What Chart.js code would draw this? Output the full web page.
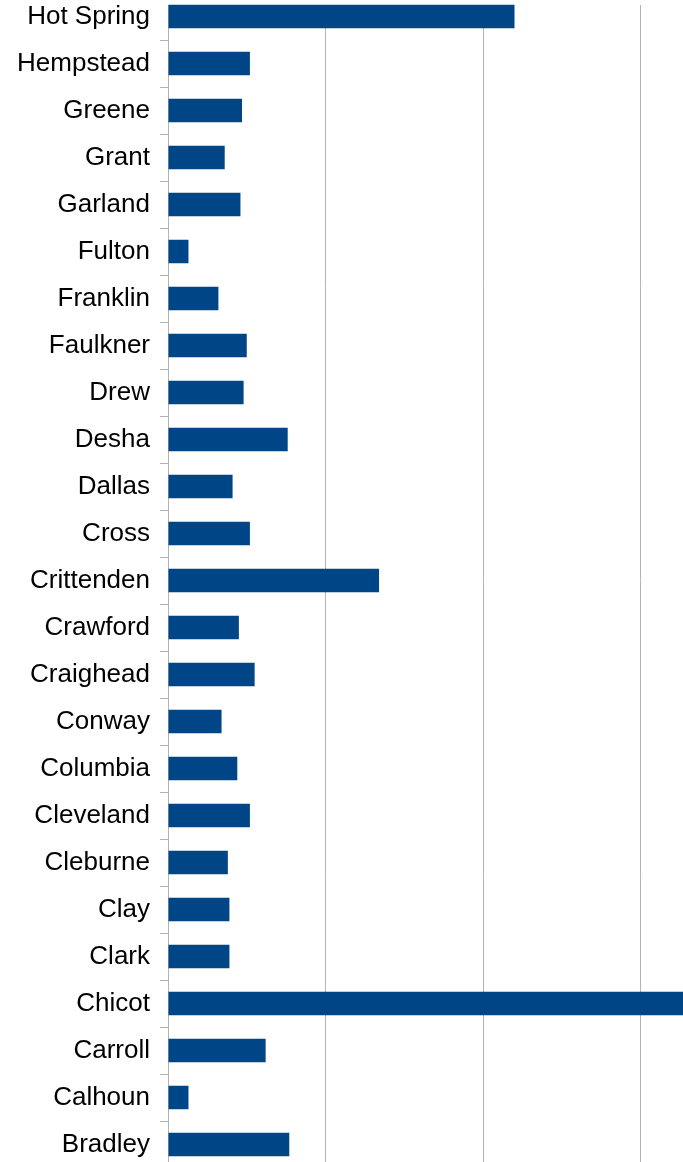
<!DOCTYPE html>
<html>
<head>
<meta charset="utf-8">
<script src="https://cdn.jsdelivr.net/npm/chart.js@4.4.0/dist/chart.umd.min.js"></script>
<style>
  html, body { margin: 0; padding: 0; background: #fff; overflow: hidden; width: 683px; height: 1162px; }
  #wrap { position: absolute; left: 0; top: -7px; width: 798px; height: 1175px; }
</style>
</head>
<body>
<div id="wrap"><canvas id="chart"></canvas></div>
<script>
// counties, top to bottom
const counties = ['Hot Spring', 'Hempstead', 'Greene', 'Grant', 'Garland', 'Fulton', 'Franklin',
  'Faulkner', 'Drew', 'Desha', 'Dallas', 'Cross', 'Crittenden', 'Crawford', 'Craighead', 'Conway',
  'Columbia', 'Cleveland', 'Cleburne', 'Clay', 'Clark', 'Chicot', 'Carroll', 'Calhoun', 'Bradley'];

// values (grid step = 10)
const values = [22.0, 5.2, 4.7, 3.6, 4.6, 1.3, 3.2,
  5.0, 4.8, 7.6, 4.1, 5.2, 13.4, 4.5, 5.5, 3.4,
  4.4, 5.2, 3.8, 3.9, 3.9, 36.0, 6.2, 1.3, 7.7];

const xMin = 0;
const xMax = 40;
const xStep = 10;

// white strip so the grid starts a bit below the top like the original
const topTrim = {
  id: 'topTrim',
  beforeDatasetsDraw(chart) {
    const c = chart.ctx, a = chart.chartArea;
    c.save();
    c.fillStyle = '#ffffff';
    c.fillRect(a.left - 1, 0, a.right - a.left + 2, 12);
    c.restore();
  }
};

const ctx = document.getElementById('chart').getContext('2d');
const chart = new Chart(ctx, {
  type: 'bar',
  data: {
    labels: counties,
    datasets: [{
      data: values,
      backgroundColor: '#004586',
      borderWidth: 0,
      barPercentage: 0.5,
      categoryPercentage: 1.0
    }]
  },
  options: {
    indexAxis: 'y',
    responsive: true,
    maintainAspectRatio: false,
    animation: false,
    layout: { padding: 0 },
    plugins: { legend: { display: false }, tooltip: { enabled: false } },
    scales: {
      x: {
        min: xMin,
        max: xMax,
        ticks: { display: false, stepSize: xStep },
        grid: { color: '#b3b3b3', lineWidth: 1, drawTicks: false },
        border: { display: false },
        afterFit(scale) { scale.height = 0; scale.paddingLeft = 0; scale.paddingRight = 0; }
      },
      y: {
        ticks: {
          color: '#000000',
          padding: 10,
          font: { family: '"Liberation Sans", Arial, sans-serif', size: 26 }
        },
        grid: { drawOnChartArea: false, drawTicks: true, tickLength: 8, color: '#b3b3b3' },
        border: { display: true, color: '#b3b3b3' },
        afterFit(scale) { scale.width = 168; scale.paddingTop = 0; scale.paddingBottom = 0; }
      }
    }
  },
  plugins: [topTrim]
});
</script>
</body>
</html>
